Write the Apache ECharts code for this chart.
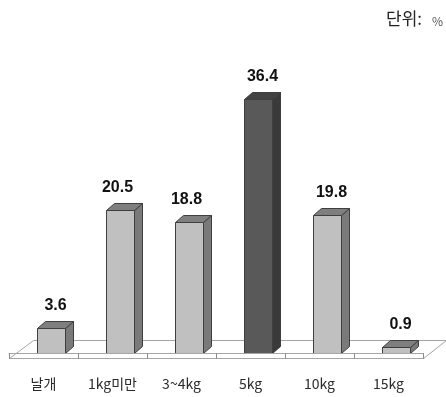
<!DOCTYPE html>
<html>
<head>
<meta charset="utf-8">
<script src="https://cdn.jsdelivr.net/npm/echarts@6/dist/echarts.min.js"></script>
<style>
  html, body { margin: 0; padding: 0; background: #ffffff; }
  #chart { width: 446px; height: 397px; }
</style>
</head>
<body>
<div id="chart"></div>
<script>
// Share by catch size (%)
const categories = ['날개', '1kg미만', '3~4kg', '5kg', '10kg', '15kg'];
const shares = [3.6, 20.5, 18.8, 36.4, 19.8, 0.9];
const highlightCategory = '5kg';
// small horizontal nudges for the value labels
const labelShift = [0, -7, -7, 0, 0, 0];

const chart = echarts.init(document.getElementById('chart'), null, { renderer: 'canvas' });

const DEPTH_X = 8;   // 3D depth offset of each column
const DEPTH_Y = 7;
const LIGHT = { front: '#c0c0c0', side: '#7a7a7a', top: '#7f7f7f' };
const DARK = { front: '#595959', side: '#3a3a3a', top: '#424242' };
const EDGE = '#3f3f3f';

function renderFloor(params, api) {
  const cs = params.coordSys;
  const baseY = cs.y + cs.height;
  const frontY = baseY + 5.5, backY = baseY - 12.5;
  const l = cs.x + 0.5, r = cs.x + cs.width + 0.5;
  return {
    type: 'polygon',
    shape: { points: [[l, frontY], [r, frontY], [r + 23, backY], [l + 24, backY]] },
    style: { fill: '#ffffff', stroke: '#a6a6a6', lineWidth: 1 },
    z2: 0
  };
}

function renderColumn(params, api) {
  const idx = api.value(0);
  const v = api.value(1);
  const base = api.coord([idx, 0]);
  const top = api.coord([idx, v]);
  const band = api.size([1, 0])[0];
  const w = Math.round(band * 0.406);
  const x0 = Math.round(base[0] - band * 0.087) + 0.5;
  const x1 = x0 + w;
  const yb = Math.round(base[1]) + 0.5;
  const yt = Math.round(top[1]) + 0.5;
  const c = categories[idx] === highlightCategory ? DARK : LIGHT;
  const edge = { stroke: EDGE, lineWidth: 1, lineJoin: 'miter' };
  return {
    type: 'group',
    children: [
      {
        type: 'polygon',
        shape: { points: [[x1, yb], [x1 + DEPTH_X, yb - DEPTH_Y], [x1 + DEPTH_X, yt - DEPTH_Y], [x1, yt]] },
        style: Object.assign({ fill: c.side }, edge)
      },
      {
        type: 'polygon',
        shape: { points: [[x0, yt], [x1, yt], [x1 + DEPTH_X, yt - DEPTH_Y], [x0 + DEPTH_X, yt - DEPTH_Y]] },
        style: Object.assign({ fill: c.top }, edge)
      },
      {
        type: 'rect',
        shape: { x: x0, y: yt, width: w, height: yb - yt },
        style: Object.assign({ fill: c.front }, edge)
      },
      {
        type: 'text',
        style: {
          text: String(v),
          x: (x0 + x1 + DEPTH_X) / 2 + labelShift[idx],
          y: yt - DEPTH_Y - 16,
          align: 'center',
          verticalAlign: 'middle',
          fill: '#111111',
          font: 'bold 16px "Liberation Sans", Arial, sans-serif'
        }
      }
    ]
  };
}

chart.setOption({
  backgroundColor: '#ffffff',
  animation: false,
  grid: { left: 9, right: 23, top: 74, bottom: 44, containLabel: false },
  xAxis: {
    type: 'category',
    data: categories,
    offset: 5,
    z: 10,
    boundaryGap: true,
    axisLine: { show: true, lineStyle: { color: '#a6a6a6', width: 1 } },
    axisTick: { show: true, length: 6, interval: 0, alignWithLabel: false, lineStyle: { color: '#8c8c8c', width: 1 } },
    axisLabel: {
      margin: 19,
      color: '#2a2a2a',
      fontSize: 14,
      fontFamily: '"Noto Sans CJK KR", sans-serif',
      interval: 0
    },
    splitLine: { show: false }
  },
  yAxis: {
    type: 'value',
    min: 0,
    max: 40,
    show: false
  },
  graphic: [
    {
      type: 'text',
      left: 386,
      top: 10,
      style: { text: '단위:', fill: '#222222', font: '17px "Noto Sans CJK KR", sans-serif' }
    },
    {
      type: 'text',
      left: 432,
      top: 15,
      style: { text: '%', fill: '#555555', font: '12px "Noto Sans CJK KR", sans-serif' }
    }
  ],
  series: [
    {
      type: 'custom',
      name: 'floor',
      renderItem: renderFloor,
      data: [[0, 0]],
      clip: false,
      silent: true,
      z: 1
    },
    {
      type: 'custom',
      name: 'share',
      renderItem: renderColumn,
      data: shares.map((v, i) => [i, v]),
      encode: { x: 0, y: 1 },
      clip: false,
      z: 2
    }
  ]
});
</script>
</body>
</html>
